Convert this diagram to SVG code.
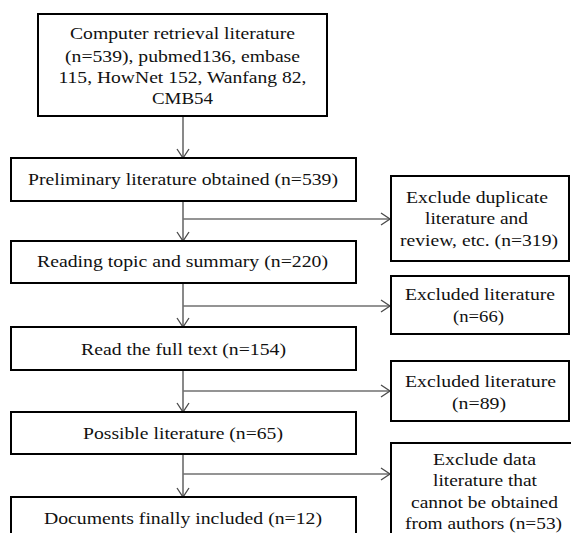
<svg xmlns="http://www.w3.org/2000/svg" width="571" height="533" viewBox="0 0 571 533">
<style>
.box{fill:#fff;stroke:#000;stroke-width:2}
.t{font-size:17.5px;fill:#111;text-anchor:middle}
.c{fill:none;stroke:#4a4a4a;stroke-width:1.3}
.h{fill:none;stroke:#707070;stroke-width:1.5}
</style>
<defs>
<marker id="ah" markerUnits="userSpaceOnUse" markerWidth="12" markerHeight="14" viewBox="0 0 11 14" refX="10" refY="7" orient="auto">
<path d="M1,1 L10,7 L1,13" fill="none" stroke="#4a4a4a" stroke-width="1.3"/>
</marker>
</defs>
<rect width="571" height="533" fill="#fff"/>
<g id="connectors">
<line class="c" x1="183" y1="116" x2="183" y2="158" marker-end="url(#ah)"/>
<line class="c" x1="183" y1="201" x2="183" y2="241" marker-end="url(#ah)"/>
<line class="c" x1="183" y1="283" x2="183" y2="327" marker-end="url(#ah)"/>
<line class="c" x1="183" y1="370" x2="183" y2="412" marker-end="url(#ah)"/>
<line class="c" x1="183" y1="454" x2="183" y2="497" marker-end="url(#ah)"/>
<line class="h" x1="183" y1="219" x2="390" y2="219" marker-end="url(#ah)"/>
<line class="h" x1="183" y1="306" x2="390" y2="306" marker-end="url(#ah)"/>
<line class="h" x1="183" y1="391" x2="390" y2="391" marker-end="url(#ah)"/>
<line class="h" x1="183" y1="474" x2="390" y2="474" marker-end="url(#ah)"/>
</g>
<g id="nodes" font-family="Liberation Serif, Tinos, Times New Roman, serif">
<g id="n1">
<rect class="box" x="38" y="14" width="289" height="102"/>
<text class="t" x="182.5" y="39" textLength="225" lengthAdjust="spacingAndGlyphs">Computer retrieval literature</text>
<text class="t" x="182.5" y="62" textLength="235" lengthAdjust="spacingAndGlyphs">(n=539), pubmed136, embase</text>
<text class="t" x="182.5" y="83" textLength="248" lengthAdjust="spacingAndGlyphs">115, HowNet 152, Wanfang 82,</text>
<text class="t" x="182.5" y="104" textLength="61" lengthAdjust="spacingAndGlyphs">CMB54</text>
</g>
<g id="n2">
<rect class="box" x="11" y="158" width="345" height="43"/>
<text class="t" x="183" y="185" textLength="310" lengthAdjust="spacingAndGlyphs">Preliminary literature obtained (n=539)</text>
</g>
<g id="n3">
<rect class="box" x="11" y="241" width="345" height="42"/>
<text class="t" x="182.5" y="267" textLength="291" lengthAdjust="spacingAndGlyphs">Reading topic and summary (n=220)</text>
</g>
<g id="n4">
<rect class="box" x="11" y="327" width="345" height="43"/>
<text class="t" x="183.5" y="355" textLength="205" lengthAdjust="spacingAndGlyphs">Read the full text (n=154)</text>
</g>
<g id="n5">
<rect class="box" x="11" y="412" width="345" height="42"/>
<text class="t" x="183" y="439" textLength="200" lengthAdjust="spacingAndGlyphs">Possible literature (n=65)</text>
</g>
<g id="n6">
<rect class="box" x="11" y="497" width="345" height="50"/>
<text class="t" x="183" y="524" textLength="278" lengthAdjust="spacingAndGlyphs">Documents finally included (n=12)</text>
</g>
<g id="r1">
<rect class="box" x="391" y="176" width="178" height="85"/>
<text class="t" x="477" y="203" textLength="142" lengthAdjust="spacingAndGlyphs">Exclude duplicate</text>
<text class="t" x="476.5" y="224" textLength="103" lengthAdjust="spacingAndGlyphs">literature and</text>
<text class="t" x="479" y="246" textLength="158" lengthAdjust="spacingAndGlyphs">review, etc. (n=319)</text>
</g>
<g id="r2">
<rect class="box" x="391" y="276" width="178" height="58"/>
<text class="t" x="480" y="300" textLength="150" lengthAdjust="spacingAndGlyphs">Excluded literature</text>
<text class="t" x="478.5" y="322" textLength="51" lengthAdjust="spacingAndGlyphs">(n=66)</text>
</g>
<g id="r3">
<rect class="box" x="391" y="361" width="178" height="60"/>
<text class="t" x="480.5" y="387" textLength="151" lengthAdjust="spacingAndGlyphs">Excluded literature</text>
<text class="t" x="479" y="409" textLength="54" lengthAdjust="spacingAndGlyphs">(n=89)</text>
</g>
<g id="r4">
<rect class="box" x="391" y="443" width="190" height="110"/>
<text class="t" x="484.5" y="465" textLength="103" lengthAdjust="spacingAndGlyphs">Exclude data</text>
<text class="t" x="485" y="486" textLength="104" lengthAdjust="spacingAndGlyphs">literature that</text>
<text class="t" x="484.5" y="508" textLength="147" lengthAdjust="spacingAndGlyphs">cannot be obtained</text>
<text class="t" x="483.5" y="529" textLength="157" lengthAdjust="spacingAndGlyphs">from authors (n=53)</text>
</g>
</g>
</svg>
